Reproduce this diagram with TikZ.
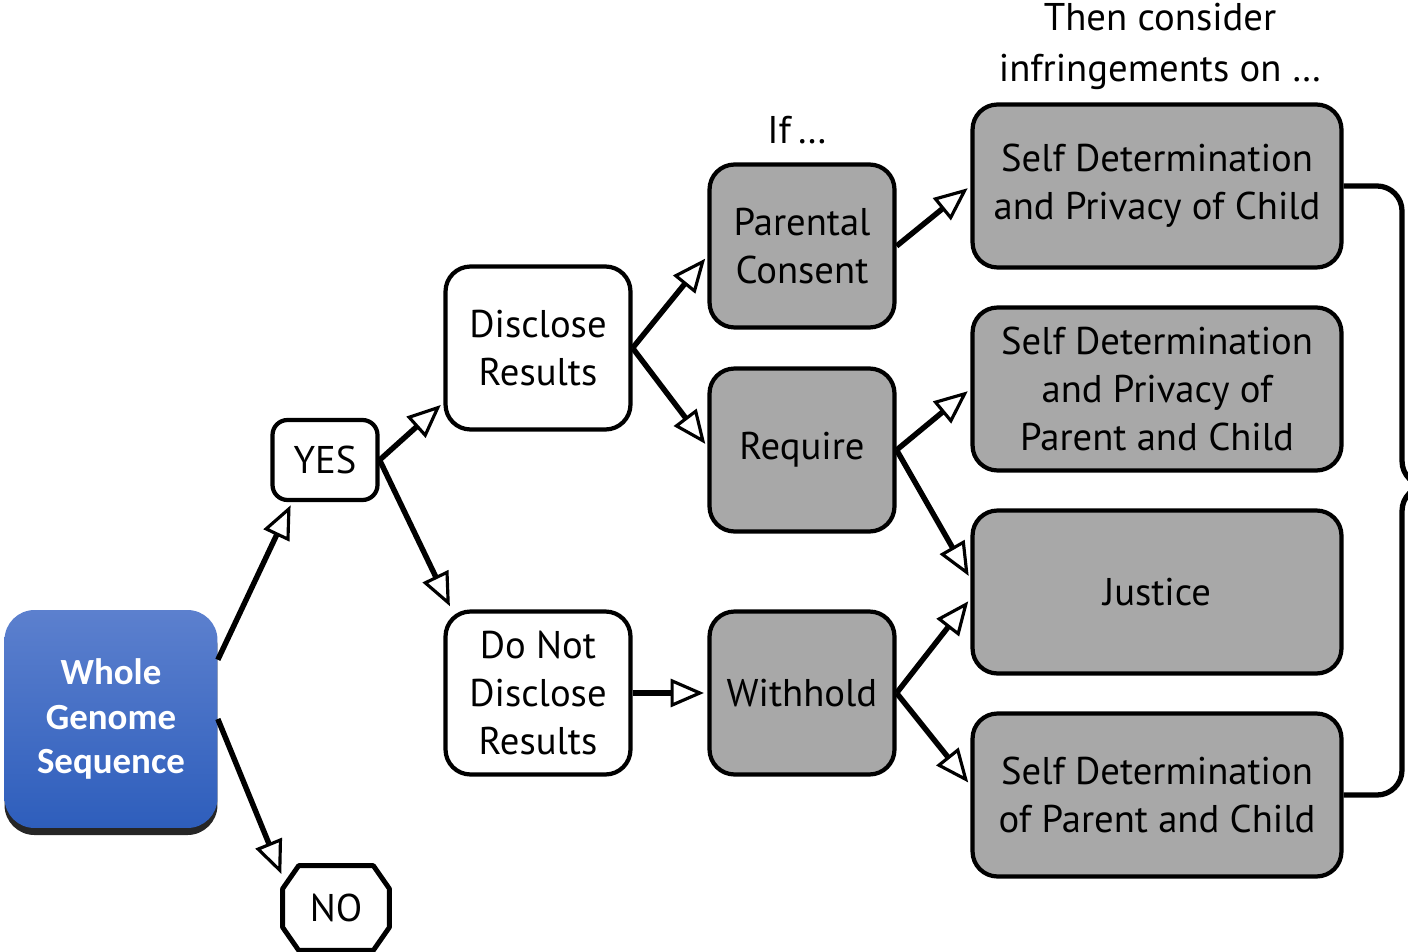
\documentclass[tikz,border=0pt]{standalone}
\usepackage{fontspec}
\usetikzlibrary{arrows.meta,shadows}
\newfontfamily\boxfont{PT Sans}
\newfontfamily\wgsfont{Carlito}
\definecolor{wgstop}{RGB}{92,128,206}
\definecolor{wgsbottom}{RGB}{46,94,188}
\definecolor{boxgray}{RGB}{168,168,168}

\begin{document}
\begin{tikzpicture}[x=0.02cm, y=-0.02cm,
  every node/.style={font=\boxfont\fontsize{22}{27.5}\selectfont, align=center},
  whitebox/.style={draw, line width=2.4pt, rounded corners=0.5cm, fill=white,
    minimum width=3.7cm, minimum height=3.26cm, inner sep=0pt},
  graybox/.style={whitebox, fill=boxgray},
  widebox/.style={graybox, minimum width=7.38cm},
  wgsbox/.style={rounded corners=0.6cm, top color=wgstop, bottom color=wgsbottom,
    minimum width=4.26cm, minimum height=4.36cm, text=white,
    font=\wgsfont\bfseries\fontsize{21}{25.5}\selectfont,
    drop shadow={shadow xshift=0pt, shadow yshift=-4pt, fill=black, opacity=0.85}},
  arr/.style={line width=3.1pt, shorten >=2pt,
    -{Triangle[length=19pt, width=16pt, fill=white, line width=1.8pt]}},
  brace/.style={line width=3pt, rounded corners=0.5cm}]
  \useasboundingbox (0,0) rectangle (1408,952);

  % start and first choice
  \node[wgsbox] (wgs) at (111,719) {Whole\\Genome\\Sequence};
  \node[minimum width=2.12cm, minimum height=1.68cm, inner sep=0pt] (no) at (336,908) {NO};
  \draw[line width=2.8pt, line join=round]
    ([xshift=0.32cm]no.north west) -- ([xshift=-0.32cm]no.north east)
    -- ([yshift=-0.46cm]no.north east) -- ([yshift=0.46cm]no.south east)
    -- ([xshift=-0.32cm]no.south east) -- ([xshift=0.32cm]no.south west)
    -- ([yshift=0.46cm]no.south west) -- ([yshift=-0.46cm]no.north west) -- cycle;
  \node[whitebox, minimum width=2.1cm, minimum height=1.6cm, rounded corners=0.3cm]
    (yes) at (325,460) {YES};

  % disclose or not
  \node[whitebox] (disc) at (538,348) {Disclose\\Results};
  \node[whitebox] (nodisc) at (538,693) {Do Not\\Disclose\\Results};

  % conditions
  \node (ifhead) at (797,130) {If\,\ldots};
  \node[graybox] (consent) at (802,246) {Parental\\Consent};
  \node[graybox] (require) at (802,450) {Require};
  \node[graybox] (withhold) at (802,693) {Withhold};

  % infringements
  \node[font=\boxfont\fontsize{22}{29}\selectfont] (thenhead) at (1160,46)
    {Then consider\\infringements on \ldots};
  \node[widebox] (sdchild) at (1157,186) {Self Determination\\and Privacy of Child};
  \node[widebox] (sdboth) at (1157,389) {Self Determination\\and Privacy of\\Parent and Child};
  \node[widebox] (justice) at (1157,592) {Justice};
  \node[widebox] (sdpc) at (1157,795) {Self Determination\\of Parent and Child};

  \draw[arr] (wgs.29) -- (yes.232);
  \draw[arr] (wgs.east) -- (no.150);
  \draw[arr] (yes.east) -- (disc.210);
  \draw[arr] (yes.east) -- (nodisc.136);
  \draw[arr] (disc.east) -- (consent.186);
  \draw[arr] (disc.east) -- (require.178);
  \draw[arr] (nodisc.east) -- (withhold.west);
  \draw[arr] (consent.east) -- (sdchild.west);
  \draw[arr] (require.east) -- (sdboth.west);
  \draw[arr] (require.east) -- (justice.176);
  \draw[arr] (withhold.east) -- (justice.182);
  \draw[arr] (withhold.east) -- (sdpc.177);

  % brace on the right
  \coordinate (bracetip) at (1432,486);
  \draw[brace] (sdchild.east) -- (1402,186) -- (1402,486) -- (bracetip)
    (bracetip) -- (1402,486) -- (1402,795) -- (sdpc.east);
\end{tikzpicture}
\end{document}
